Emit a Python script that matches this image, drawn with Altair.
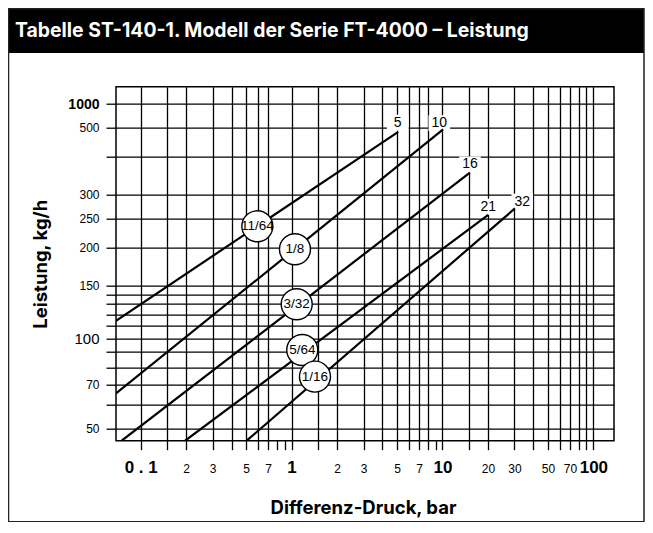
import altair as alt
import pandas as pd

# ---- data ----
series = ["5", "10", "16", "21", "32"]
x_start = [0.0686, 0.0686, 0.0748, 0.197, 0.504]
y_start = [114.4, 65.6, 45.7, 45.7, 45.7]
x_end = [5.09, 10.1, 15.2, 20.1, 30.2]
y_end = [485, 494, 355, 257, 270]

label_x = [5.05, 9.52, 15.21, 20.1, 33.8]
label_y = [520, 518, 378, 273.5, 284.4]

orifice = ["11/64", "1/8", "3/32", "5/64", "1/16"]
orifice_x = [0.593, 1.053, 1.081, 1.177, 1.429]
orifice_y = [235.5, 197.6, 129.7, 91.4, 74.6]

x_ticks = [0.1, 0.15, 0.2, 0.3, 0.4, 0.5, 0.6, 0.7, 0.8, 0.9,
           1, 1.5, 2, 3, 4, 5, 6, 7, 8, 9,
           10, 15, 20, 30, 40, 50, 60, 70, 80, 90, 100]
x_no_grid = [0.8, 0.9, 9]
x_label_vals = [0.1, 0.2, 0.3, 0.5, 0.7, 1, 2, 3, 5, 7, 10, 20, 30, 50, 70, 100]
x_label_text = ["0 . 1", "2", "3", "5", "7", "1", "2", "3", "5", "7",
                "10", "20", "30", "50", "70", "100"]
x_bold = [0.1, 1, 10, 100]

y_ticks = [50, 60, 70, 80, 90, 100, 110, 120, 130, 140, 150, 200, 250, 300, 400, 500, 600]
y_label_vals = [50, 70, 100, 150, 200, 250, 300, 500, 600]
y_label_text = ["50", "70", "100", "150", "200", "250", "300", "500", "1000"]

x_domain = [0.0686, 137]
y_domain = [45.7, 685]

# ---- tables ----
lines_df = pd.DataFrame({
    "series": series * 2,
    "x": x_start + x_end,
    "y": y_start + y_end,
    "o": [0] * len(series) + [1] * len(series),
})
labels_df = pd.DataFrame({"series": series, "x": label_x, "y": label_y})
orif_df = pd.DataFrame({"name": orifice, "x": orifice_x, "y": orifice_y})

narrow_font = "'Liberation Sans Narrow', 'Liberation Sans', sans-serif"
num_font = "'Liberation Sans', Arial, sans-serif"
title_font = "Inter"


def lookup_expr(vals, texts):
    v = "[" + ",".join(repr(a) for a in vals) + "]"
    t = "[" + ",".join("'" + s + "'" for s in texts) + "]"
    return f"indexof({v}, datum.value) >= 0 ? {t}[indexof({v}, datum.value)] : ''"


def any_eq(vals):
    return " || ".join(f"datum.value == {a}" for a in vals)


x_axis = alt.Axis(
    values=x_ticks,
    labelExpr=lookup_expr(x_label_vals, x_label_text),
    labelFont=narrow_font,
    labelFontSize={"condition": {"test": any_eq(x_bold), "value": 17}, "value": 12},
    labelFontWeight={"condition": {"test": any_eq(x_bold), "value": "bold"}, "value": "normal"},
    labelColor="black",
    labelBaseline="alphabetic",
    labelPadding=23,
    labelFlush=False,
    labelOverlap=False,
    tickSize=9,
    tickColor="black",
    tickWidth=1.3,
    grid=True,
    gridColor="black",
    gridWidth=1.3,
    gridOpacity={"condition": {"test": any_eq(x_no_grid), "value": 0}, "value": 1},
    domain=False,
    title="Differenz-Druck, bar",
    titleFont=title_font,
    titleFontSize=18.5,
    titleFontWeight="bold",
    titleColor="black",
    titleX=247,
    titleY=67,
    titleAlign="center",
    titleBaseline="middle",
)

y_axis = alt.Axis(
    values=y_ticks,
    labelExpr=lookup_expr(y_label_vals, y_label_text),
    labelFont=num_font,
    labelFontSize={"condition": [{"test": "datum.value == 100", "value": 15},
                                 {"test": "datum.value == 600", "value": 14}], "value": 12},
    labelFontWeight={"condition": {"test": "datum.value == 600", "value": "bold"}, "value": "normal"},
    labelColor="black",
    labelPadding=7,
    labelOverlap=False,
    labelFlush=False,
    tickSize=10,
    tickColor="black",
    tickWidth=1.3,
    grid=True,
    gridColor="black",
    gridWidth=1.3,
    domain=False,
    title="Leistung, kg/h",
    titleFont=title_font,
    titleFontSize=18.5,
    titleFontWeight="bold",
    titleColor="black",
    titleX=-76,
    titleY=177,
    titleAngle=270,
    titleAlign="center",
    titleBaseline="middle",
)

X = alt.X("x:Q", scale=alt.Scale(type="log", domain=x_domain, nice=False), axis=x_axis)
Y = alt.Y("y:Q", scale=alt.Scale(type="log", domain=y_domain, nice=False), axis=y_axis)

base_df = pd.DataFrame({"x": [1.0], "y": [100.0]})

band = alt.Chart(base_df).mark_rect(color="black").encode(
    x=alt.value(-107.5), x2=alt.value(528), y=alt.value(-78), y2=alt.value(-33.7)
)
border = alt.Chart(base_df).mark_rect(fillOpacity=0, stroke="#222", strokeWidth=1.5).encode(
    x=alt.value(-107.5), x2=alt.value(528), y=alt.value(-78), y2=alt.value(435)
)
heading = alt.Chart(base_df).mark_text(
    text="Tabelle ST-140-1. Modell der Serie FT-4000 – Leistung",
    align="left", baseline="middle", color="white",
    font=title_font, fontSize=19.4, fontWeight="bold",
).encode(x=alt.value(-101), y=alt.value(-55.5))

boxes = alt.Chart(labels_df).mark_point(
    shape="M-1.35,-1L1.35,-1L1.35,1L-1.35,1Z", filled=True, color="white", opacity=1, size=256
).encode(x=X, y=Y)

lines = alt.Chart(lines_df).mark_line(color="black", strokeWidth=2.2, clip=True).encode(
    x=X, y=Y, detail="series:N", order="o:Q"
)

circles = alt.Chart(orif_df).mark_point(
    shape="circle", filled=False, fill="white", fillOpacity=1, stroke="black",
    strokeWidth=1.4, size=961, opacity=1
).encode(x=X, y=Y)

circle_text = alt.Chart(orif_df).mark_text(
    font=narrow_font, fontSize=13.5, color="black", baseline="middle", align="center"
).encode(x=X, y=Y, text="name:N")

end_labels = alt.Chart(labels_df).mark_text(
    font=narrow_font, fontSize=14, color="black", baseline="middle", align="center"
).encode(x=X, y=Y, text="series:N")

chart = alt.layer(
    band, border, boxes, lines, circles, circle_text, end_labels, heading
).properties(
    width=498,
    height=354,
    autosize=alt.AutoSizeParams(type="none"),
    padding={"left": 108, "top": 78.7, "right": 31, "bottom": 81.3},
    background="white",
).configure_view(
    stroke="black", strokeWidth=1.5
)

chart.save("out.html", embed_options={"renderer": "svg", "actions": False})
